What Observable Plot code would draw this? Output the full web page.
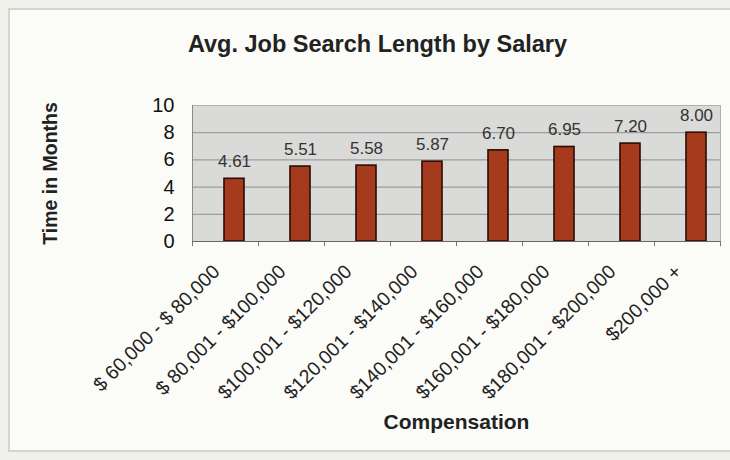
<!DOCTYPE html>
<html>
<head>
<meta charset="utf-8">
<script src="https://cdn.jsdelivr.net/npm/d3@7"></script>
<script src="https://cdn.jsdelivr.net/npm/@observablehq/plot@0.6"></script>
<style>
  html, body { margin: 0; padding: 0; background: #f1f1ec; }
  #wrap { position: relative; width: 730px; height: 460px; overflow: hidden; }
  #box { position: absolute; left: 8px; top: 8px; width: 740px; height: 440px;
         border: 2px solid #d4d4d0; background: #fbfbf8; }
  #chart { position: absolute; left: 0; top: 0; }
</style>
</head>
<body>
<div id="wrap"><div id="box"></div><div id="chart"></div></div>
<script>
const categories = ["$ 60,000 - $ 80,000", "$ 80,001 - $100,000", "$100,001 - $120,000", "$120,001 - $140,000",
                    "$140,001 - $160,000", "$160,001 - $180,000", "$180,001 - $200,000", "$200,000 +"];
const months = [4.61, 5.51, 5.58, 5.87, 6.70, 6.95, 7.20, 8.00];
const yTicks = [0, 2, 4, 6, 8, 10];
const titleText = "Avg. Job Search Length by Salary";
const yLabel = "Time in Months";
const xLabel = "Compensation";

const data = categories.map((c, i) => ({cat: c, value: months[i]}));
const font = "'Liberation Sans', Arial, Helvetica, sans-serif";

const chart = Plot.plot({
  width: 730,
  height: 460,
  marginLeft: 192,
  marginRight: 10,
  marginTop: 105,
  marginBottom: 219,
  style: {fontFamily: font, background: "transparent", overflow: "visible"},
  x: {domain: categories, padding: 0, axis: null},
  y: {domain: [0, 10], ticks: yTicks, axis: null},
  marks: [
    Plot.frame({fill: "#dadad8", stroke: null}),
    Plot.ruleY(yTicks.filter(d => d > 0 && d < 10), {stroke: "#8e8e8e", strokeWidth: 1}),
    Plot.frame({stroke: "#b0b0ae", strokeWidth: 1}),
    Plot.ruleX(categories, {x: d => d, y1: 0, y2: -0.38, dx: -33, stroke: "#777"}),
    Plot.ruleX([categories[categories.length - 1]], {x: d => d, y1: 0, y2: -0.38, dx: 33, stroke: "#777"}),
    Plot.barY(data, {x: "cat", y: "value", insetLeft: 32, insetRight: 14,
      fill: "#a63a1c", stroke: "#2a0c04", strokeWidth: 1.6}),
    Plot.ruleY([0], {stroke: "#666", strokeWidth: 1.2}),
    Plot.ruleX([categories[0]], {x: d => d, y1: 0, y2: 10, dx: -33, stroke: "#8a8a8a"}),
    Plot.axisY({ticks: yTicks, tickSize: 0, tickPadding: 18, fontSize: 20, fill: "#111", label: null}),
    Plot.text(data, {x: "cat", y: "value", text: d => d.value.toFixed(2), dx: 9, dy: -17,
      fontSize: 17, fill: "#333", lineAnchor: "middle"}),
    Plot.text(categories, {x: d => d, text: d => d, frameAnchor: "bottom", rotate: -45,
      textAnchor: "end", lineAnchor: "middle", dx: -9, dy: 27, fontSize: 19.5, fill: "#222"}),
    Plot.text([titleText], {text: d => d, frameAnchor: "top", dx: -79, dy: -54,
      lineAnchor: "bottom", fontSize: 23.5, fontWeight: "bold", fill: "#222"}),
    Plot.text([yLabel], {text: d => d, frameAnchor: "left", dx: -142, rotate: -90,
      textAnchor: "middle", lineAnchor: "middle", fontSize: 19.5, fontWeight: "bold", fill: "#222"}),
    Plot.text([xLabel], {text: d => d, frameAnchor: "bottom", dy: 187,
      lineAnchor: "bottom", fontSize: 21, fontWeight: "bold", fill: "#222"})
  ]
});
document.getElementById("chart").appendChild(chart);
</script>
</body>
</html>
